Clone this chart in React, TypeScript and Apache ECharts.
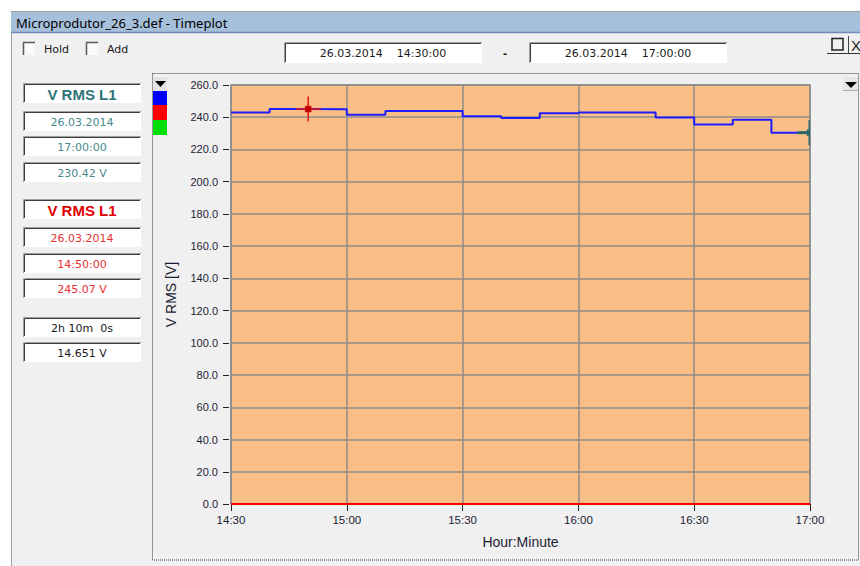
import React, { useEffect, useRef } from "react";
import * as echarts from "echarts";

// Sample times (10-minute RMS values) and the V RMS L1 trace
const sampleTimes = [
  "14:30", "14:40", "14:50", "15:00", "15:10", "15:20", "15:30", "15:40",
  "15:50", "16:00", "16:10", "16:20", "16:30", "16:40", "16:50", "17:00",
];
const vRmsL1 = [
  243.0, 243.0, 245.07, 245.0, 241.5, 243.8, 243.8, 240.6,
  239.5, 242.4, 243.0, 243.0, 239.9, 235.5, 238.4, 230.42,
];
// Second channel trace (red), sitting on the zero line
const redTrace = [0, 0, 0, 0, 0, 0, 0, 0, 0, 0, 0, 0, 0, 0, 0, 0];

// Axis range
const timeStart = "14:30";
const timeEnd = "17:00";
const timeStepMin = 30;
const voltMin = 0;
const voltMax = 260;
const voltStep = 20;

// Cursors: teal (cursor 1) and red (cursor 2)
const cursorDate = "26.03.2014";
const cursorTimes = ["17:00", "14:50"];
const cursorValues = [230.42, 245.07];
const deltaTimeText = "2h 10m  0s";
const deltaValueText = "14.651 V";

const rangeFrom = "26.03.2014    14:30:00";
const rangeTo = "26.03.2014    17:00:00";
const windowTitle = "Microprodutor_26_3.def - Timeplot";

const toMin = (t: string) => {
  const [h, m] = t.split(":").map(Number);
  return h * 60 + m;
};
const fmtHM = (v: number) => {
  const h = Math.floor(v / 60);
  const m = Math.round(v % 60);
  return `${h}:${m < 10 ? "0" + m : m}`;
};

const UI_FONT = '"DejaVu Sans", sans-serif';
const ARIAL = '"Liberation Sans", Arial, sans-serif';
const TEAL = "#2f7478";
const TEAL_LIGHT = "#468a8e";
const RED = "#e00000";
const RED_LIGHT = "#e83232";

function txt(x: number, y: number, text: string, font: string, fill: string, align = "left") {
  return {
    type: "text",
    z: 50,
    style: {
      x, y, text, font, fill,
      textAlign: align, align,
      textVerticalAlign: "middle", verticalAlign: "middle",
    },
  };
}

function sunkenBox(x: number, y: number, w: number, h: number) {
  return [
    { type: "rect", z: 40, shape: { x, y, width: w, height: h }, style: { fill: "#ffffff" } },
    {
      type: "polyline", z: 41,
      shape: { points: [[x + 0.5, y + h], [x + 0.5, y + 0.5], [x + w, y + 0.5]] },
      style: { stroke: "#a0a0a0", lineWidth: 1, fill: "none" },
    },
    {
      type: "polyline", z: 41,
      shape: { points: [[x + 1.5, y + h - 1], [x + 1.5, y + 1.5], [x + w - 1, y + 1.5]] },
      style: { stroke: "#3c3c3c", lineWidth: 1, fill: "none" },
    },
  ];
}

function checkBox(x: number, y: number, label: string) {
  return [
    { type: "rect", z: 40, shape: { x, y, width: 12, height: 13 }, style: { fill: "#fbfbfb" } },
    {
      type: "polyline", z: 41,
      shape: { points: [[x + 0.5, y + 13], [x + 0.5, y + 0.5], [x + 12, y + 0.5]] },
      style: { stroke: "#5a5a5a", lineWidth: 1.5, fill: "none" },
    },
    txt(x + 21, y + 7, label, `11px ${UI_FONT}`, "#1a1a1a"),
  ];
}

function crosshair(color: string, square: string, lw: number) {
  return (params: any, api: any) => {
    const p = api.coord([api.value(0), api.value(1)]);
    const arm = 12.5;
    return {
      type: "group",
      children: [
        {
          type: "line",
          shape: { x1: p[0], y1: p[1] - arm, x2: p[0], y2: p[1] + arm },
          style: { stroke: color, lineWidth: lw },
        },
        {
          type: "line",
          shape: { x1: p[0] - arm, y1: p[1], x2: p[0] + arm, y2: p[1] },
          style: { stroke: color, lineWidth: lw },
        },
        {
          type: "rect",
          shape: { x: p[0] - 3, y: p[1] - 3, width: 6, height: 6 },
          style: { fill: square, stroke: color, lineWidth: 0.5 },
        },
      ],
    };
  };
}

function buildGraphics() {
  const els: any[] = [];
  // window chrome
  els.push({ type: "rect", z: 30, shape: { x: 0, y: 0, width: 860, height: 11 }, style: { fill: "#ffffff" } });
  els.push({ type: "rect", z: 30, shape: { x: 0, y: 0, width: 11, height: 566 }, style: { fill: "#ffffff" } });
  els.push({ type: "line", z: 31, shape: { x1: 11.5, y1: 11, x2: 11.5, y2: 566 }, style: { stroke: "#a0a0a0", lineWidth: 1 } });
  els.push({ type: "rect", z: 31, shape: { x: 11, y: 11, width: 849, height: 22 }, style: { fill: "#a6bfda" } });
  els.push({ type: "line", z: 32, shape: { x1: 11, y1: 11.5, x2: 860, y2: 11.5 }, style: { stroke: "#a0a0a0", lineWidth: 1 } });
  els.push({ type: "line", z: 32, shape: { x1: 11, y1: 32.5, x2: 860, y2: 32.5 }, style: { stroke: "#6f8cb6", lineWidth: 1.5 } });
  els.push(txt(16, 22.5, windowTitle, '13px "Noto Sans", sans-serif', "#000000"));

  // Hold / Add
  els.push(...checkBox(23, 42, "Hold"));
  els.push(...checkBox(86, 42, "Add"));

  // time range fields
  els.push(...sunkenBox(284, 42, 198, 21));
  els.push(txt(383, 53, rangeFrom, `11px ${UI_FONT}`, "#1a1a1a", "center"));
  els.push(txt(505, 54, "-", `bold 12px ${ARIAL}`, "#1a1a1a", "center"));
  els.push(...sunkenBox(529, 42, 198, 21));
  els.push(txt(628, 53, rangeTo, `11px ${UI_FONT}`, "#1a1a1a", "center"));

  // restore / close glyphs
  els.push({ type: "rect", z: 40, shape: { x: 832, y: 38.5, width: 11, height: 11.5 }, style: { fill: "none", stroke: "#222", lineWidth: 1.5 } });
  els.push({ type: "line", z: 40, shape: { x1: 848.5, y1: 36, x2: 848.5, y2: 53 }, style: { stroke: "#444", lineWidth: 1 } });
  els.push(txt(851, 45, "X", `15px ${ARIAL}`, "#222222"));
  els.push({ type: "line", z: 40, shape: { x1: 827, y1: 53.5, x2: 860, y2: 53.5 }, style: { stroke: "#333", lineWidth: 1.2 } });

  // cursor read-outs
  const boxX = 23;
  const boxW = 118;
  const cx = boxX + boxW / 2;
  const panel = (y0: number[], rows: string[], fonts: string[], colors: string[]) => {
    rows.forEach((r, i) => {
      els.push(...sunkenBox(boxX, y0[i], boxW, 20));
      els.push(txt(cx, y0[i] + 11, r, fonts[i], colors[i], "center"));
    });
  };
  const vText = (v: number) => `${v.toFixed(2)} V`;
  const tText = (t: string) => `${t}:00`;
  panel(
    [83, 111, 136, 162],
    ["V RMS L1", cursorDate, tText(cursorTimes[0]), vText(cursorValues[0])],
    [`bold 15px ${ARIAL}`, `11px ${UI_FONT}`, `11px ${UI_FONT}`, `11px ${UI_FONT}`],
    [TEAL, TEAL_LIGHT, TEAL_LIGHT, TEAL_LIGHT]
  );
  panel(
    [199, 227, 253, 278],
    ["V RMS L1", cursorDate, tText(cursorTimes[1]), vText(cursorValues[1])],
    [`bold 15px ${ARIAL}`, `11px ${UI_FONT}`, `11px ${UI_FONT}`, `11px ${UI_FONT}`],
    [RED, RED_LIGHT, RED_LIGHT, RED_LIGHT]
  );
  panel(
    [317, 342],
    [deltaTimeText, deltaValueText],
    [`11px ${UI_FONT}`, `11px ${UI_FONT}`],
    ["#1a1a1a", "#1a1a1a"]
  );

  // dotted plot frame
  els.push({
    type: "rect", z: 20,
    shape: { x: 152.5, y: 73.5, width: 706, height: 486.5 },
    style: { fill: "none", stroke: "#3a3a3a", lineWidth: 1, lineDash: [1, 1] },
  });

  // channel selector (left) and menu arrow (right)
  els.push({ type: "rect", z: 40, shape: { x: 153, y: 77, width: 14, height: 14 }, style: { fill: "#e4e4e4" } });
  els.push({ type: "polygon", z: 41, shape: { points: [[155, 81], [166, 81], [160.5, 87]] }, style: { fill: "#000" } });
  els.push({ type: "rect", z: 40, shape: { x: 153, y: 91, width: 14, height: 14 }, style: { fill: "#0000ff" } });
  els.push({ type: "rect", z: 40, shape: { x: 153, y: 105, width: 14, height: 15 }, style: { fill: "#ff0000" } });
  els.push({ type: "rect", z: 40, shape: { x: 153, y: 120, width: 14, height: 15 }, style: { fill: "#00dd00" } });

  els.push({ type: "rect", z: 40, shape: { x: 843, y: 77, width: 15, height: 13 }, style: { fill: "#e6e6e6" } });
  els.push({ type: "line", z: 41, shape: { x1: 843, y1: 90.5, x2: 858, y2: 90.5 }, style: { stroke: "#a8a8a8", lineWidth: 1 } });
  els.push({ type: "polygon", z: 41, shape: { points: [[845, 82], [857, 82], [851, 88]] }, style: { fill: "#000" } });
  return els;
}

export default function App() {
  const ref = useRef<HTMLDivElement>(null);

  useEffect(() => {
    if (!ref.current) return;
    const chart = echarts.init(ref.current, undefined, { renderer: "svg" });

    const l1Data = sampleTimes.map((t, i) => [toMin(t), vRmsL1[i]]);
    const redData = sampleTimes.map((t, i) => [toMin(t), redTrace[i]]);

    const option: any = {
      animation: false,
      backgroundColor: "#f0f0f0",
      grid: {
        left: 231, top: 85, width: 579, height: 419,
        show: true,
        backgroundColor: "#fabf86",
        borderColor: "#8c8c8c",
        borderWidth: 1.5,
      },
      xAxis: {
        type: "value",
        min: toMin(timeStart),
        max: toMin(timeEnd),
        interval: timeStepMin,
        offset: 2,
        name: "Hour:Minute",
        nameLocation: "middle",
        nameGap: 29,
        nameTextStyle: { fontFamily: ARIAL, fontSize: 14, color: "#1c1c34" },
        axisLine: { show: false },
        axisTick: { show: true, length: 7, lineStyle: { color: "#222", width: 1 } },
        axisLabel: {
          margin: 8,
          fontFamily: ARIAL, fontSize: 11.5, color: "#1c1c34",
          formatter: (v: number) => fmtHM(v),
        },
        splitLine: { show: true, lineStyle: { color: "#8c8c8c", width: 1.5 } },
      },
      yAxis: {
        type: "value",
        min: voltMin,
        max: voltMax,
        interval: voltStep,
        offset: 2,
        name: "V RMS [V]",
        nameLocation: "middle",
        nameGap: 51,
        nameTextStyle: { fontFamily: ARIAL, fontSize: 14, color: "#1c1c34" },
        axisLine: { show: false },
        axisTick: { show: true, length: 6, lineStyle: { color: "#222", width: 1 } },
        axisLabel: {
          margin: 11,
          fontFamily: ARIAL, fontSize: 11, color: "#1c1c34",
          formatter: (v: number) => v.toFixed(1),
        },
        splitLine: { show: true, lineStyle: { color: "#8c8c8c", width: 1.5 } },
      },
      series: [
        {
          name: "red trace",
          type: "line",
          data: redData,
          symbol: "none",
          clip: false,
          lineStyle: { color: "#ff0000", width: 2 },
          z: 3,
        },
        {
          name: "V RMS L1",
          type: "line",
          step: "start",
          data: l1Data,
          symbol: "none",
          lineStyle: { color: "#1c1cff", width: 2 },
          z: 4,
        },
        {
          name: "cursor 2",
          type: "custom",
          data: [[toMin(cursorTimes[1]), cursorValues[1]]],
          renderItem: crosshair("#e41414", "#c00000", 1.5),
          clip: false,
          z: 6,
        },
        {
          name: "cursor 1",
          type: "custom",
          data: [[toMin(cursorTimes[0]), cursorValues[0]]],
          renderItem: crosshair("#2b6a6a", "#2b6a6a", 3),
          clip: true,
          z: 6,
        },
      ],
      graphic: { elements: buildGraphics() },
    };

    chart.setOption(option);
    return () => chart.dispose();
  }, []);

  return (
    <div
      ref={ref}
      style={{ position: "fixed", left: 0, top: 0, width: 860, height: 566 }}
    />
  );
}
